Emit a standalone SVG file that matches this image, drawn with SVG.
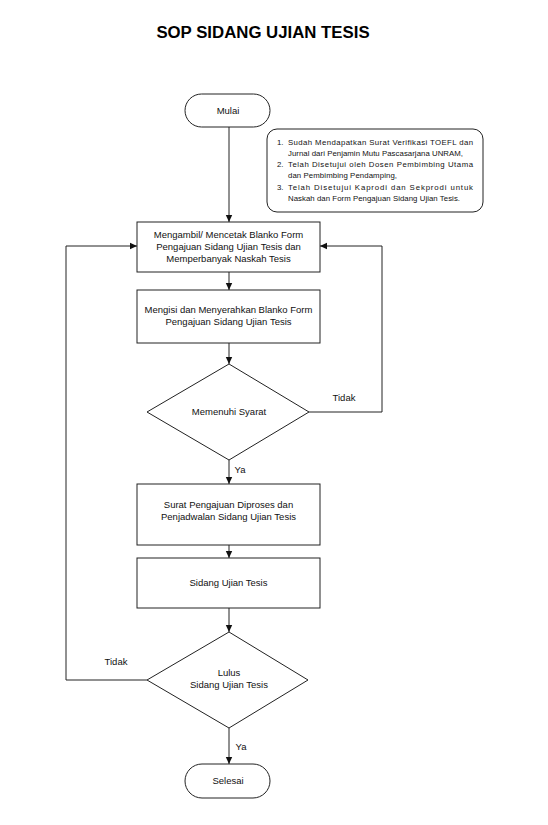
<svg xmlns="http://www.w3.org/2000/svg" width="548" height="825" viewBox="0 0 548 825">
<style>
.s{fill:#fff;stroke:#222;stroke-width:1}
.t{font-family:"Liberation Sans",Arial,sans-serif;font-size:9.5px;fill:#111;text-anchor:middle}
.n{font-family:"Liberation Sans",Arial,sans-serif;font-size:7.8px;fill:#111}
.c{fill:none;stroke:#222;stroke-width:1}
</style>
<defs>
<marker id="a" markerWidth="8" markerHeight="8" refX="7" refY="4" orient="auto" markerUnits="userSpaceOnUse">
<path d="M0,0.8 L7,4 L0,7.2 Z" fill="#111"/>
</marker>
</defs>
<rect width="548" height="825" fill="#fff"/>
<text x="263" y="38" style="font-family:'Liberation Sans',Arial,sans-serif;font-size:16.8px;font-weight:bold;text-anchor:middle;fill:#000">SOP SIDANG UJIAN TESIS</text>

<g id="connectors">
<line class="c" x1="229" y1="127" x2="229" y2="222" marker-end="url(#a)"/>
<line class="c" x1="229" y1="272" x2="229" y2="290" marker-end="url(#a)"/>
<line class="c" x1="229" y1="343" x2="229" y2="364" marker-end="url(#a)"/>
<line class="c" x1="229" y1="460" x2="229" y2="484" marker-end="url(#a)"/>
<line class="c" x1="229" y1="545" x2="229" y2="558" marker-end="url(#a)"/>
<line class="c" x1="229" y1="608" x2="229" y2="632" marker-end="url(#a)"/>
<line class="c" x1="229" y1="728" x2="229" y2="764" marker-end="url(#a)"/>
<polyline class="c" points="309,412 382,412 382,246 320,246" marker-end="url(#a)"/>
<polyline class="c" points="147,680 66,680 66,246 137,246" marker-end="url(#a)"/>
<text class="t" x="344" y="401">Tidak</text>
<text class="t" x="240" y="473">Ya</text>
<text class="t" x="116" y="665">Tidak</text>
<text class="t" x="241" y="750">Ya</text>
</g>

<g id="mulai">
<rect class="s" x="185" y="94" width="85" height="33" rx="16.5"/>
<text class="t" x="228" y="114">Mulai</text>
</g>

<g id="note">
<rect class="s" x="267" y="129" width="216" height="83" rx="10"/>
<text class="n" x="277" y="145">1.</text>
<text class="n" x="288" y="145" textLength="185" lengthAdjust="spacing">Sudah Mendapatkan Surat Verifikasi TOEFL dan</text>
<text class="n" x="288" y="156" textLength="175" lengthAdjust="spacing">Jurnal dari Penjamin Mutu Pascasarjana UNRAM,</text>
<text class="n" x="277" y="167">2.</text>
<text class="n" x="288" y="167" textLength="185" lengthAdjust="spacing">Telah Disetujui oleh Dosen Pembimbing Utama</text>
<text class="n" x="288" y="178" textLength="109" lengthAdjust="spacing">dan Pembimbing Pendamping,</text>
<text class="n" x="277" y="190">3.</text>
<text class="n" x="288" y="190" textLength="185" lengthAdjust="spacing">Telah Disetujui Kaprodi dan Sekprodi untuk</text>
<text class="n" x="288" y="201" textLength="172" lengthAdjust="spacing">Naskah dan Form Pengajuan Sidang Ujian Tesis.</text>
</g>

<g id="box1">
<rect class="s" x="137" y="222" width="183" height="50"/>
<text class="t" x="228.5" y="238">Mengambil/ Mencetak Blanko Form</text>
<text class="t" x="228.5" y="250">Pengajuan Sidang Ujian Tesis dan</text>
<text class="t" x="228.5" y="262">Memperbanyak Naskah Tesis</text>
</g>

<g id="box2">
<rect class="s" x="137" y="290" width="183" height="53"/>
<text class="t" x="228.5" y="313">Mengisi dan Menyerahkan Blanko Form</text>
<text class="t" x="228.5" y="325">Pengajuan Sidang Ujian Tesis</text>
</g>

<g id="dec1">
<polygon class="s" points="229,364 309,412 229,460 147,412"/>
<text class="t" x="229" y="415">Memenuhi Syarat</text>
</g>

<g id="box3">
<rect class="s" x="137" y="484" width="183" height="61"/>
<text class="t" x="228.5" y="508">Surat Pengajuan Diproses dan</text>
<text class="t" x="228.5" y="520">Penjadwalan Sidang Ujian Tesis</text>
</g>

<g id="box4">
<rect class="s" x="137" y="558" width="183" height="50"/>
<text class="t" x="228.5" y="586">Sidang Ujian Tesis</text>
</g>

<g id="dec2">
<polygon class="s" points="229,632 308,680 229,728 147,680"/>
<text class="t" x="229" y="676">Lulus</text>
<text class="t" x="229" y="688">Sidang Ujian Tesis</text>
</g>

<g id="selesai">
<rect class="s" x="185" y="764" width="85" height="34" rx="17"/>
<text class="t" x="228" y="784">Selesai</text>
</g>
</svg>
